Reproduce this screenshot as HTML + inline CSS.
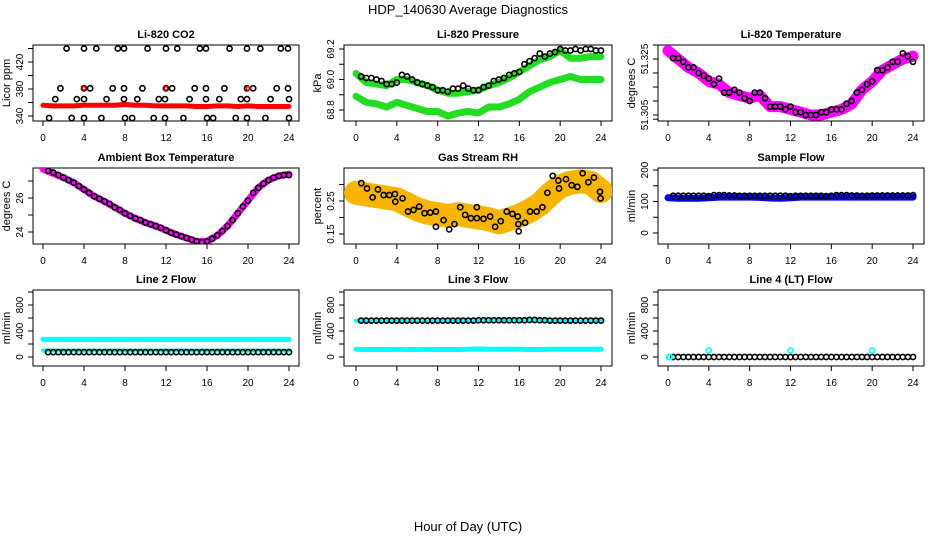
<!DOCTYPE html>
<html><head><meta charset="utf-8">
<style>
html,body{margin:0;padding:0;background:#fff;width:936px;height:540px;overflow:hidden;}
svg{display:block;font-family:"Liberation Sans",Arial,sans-serif;}
</style></head>
<body>
<svg id="chart" width="936" height="540" viewBox="0 0 936 540" xmlns="http://www.w3.org/2000/svg">
<text x="468" y="14" text-anchor="middle" font-size="13">HDP_140630  Average Diagnostics</text>
<text x="468" y="531" text-anchor="middle" font-size="13">Hour of Day (UTC)</text>
</svg>
<script>
// ---- data ----
const xTicks = [0,4,8,12,16,20,24];
const halfHours = [0.5,1,1.5,2,2.5,3,3.5,4,4.5,5,5.5,6,6.5,7,7.5,8,8.5,9,9.5,10,10.5,11,11.5,12,12.5,13,13.5,14,14.5,15,15.5,16,16.5,17,17.5,18,18.5,19,19.5,20,20.5,21,21.5,22,22.5,23,23.5,24];
const hours = [0,1,2,3,4,5,6,7,8,9,10,11,12,13,14,15,16,17,18,19,20,21,22,23,24];

const co2Hours = [2.3,4.0,5.2,7.3,7.9,10.2,12.0,13.1,15.3,15.9,18.2,19.9,21.2,23.2,23.9, 1.7,4.0,4.6,6.8,7.9,9.7,12.0,12.6,14.8,15.9,17.7,19.9,20.5,22.8,23.9, 1.2,3.3,4.0,6.2,7.9,9.2,11.3,11.9,14.3,15.9,17.2,19.3,19.9,22.2,24.0, 0.6,2.8,4.0,5.7,8.0,8.7,10.8,11.9,13.7,16.0,16.6,18.8,19.9,21.7,24.0];
const co2Vals = [440,440,440,440,440,440,440,440,440,440,440,440,440,440,440, 381,381,381,381,381,381,381,381,381,381,381,381,381,381,381, 365,365,365,365,365,365,365,365,365,365,365,365,365,365,365, 337,337,337,337,337,337,337,337,337,337,337,337,337,337,337];
const co2Band = [356,355,355,355,356,356,356,356,357,356,356,355,355,355,355,354,354,355,355,354,355,354,354,354,354];
const co2RedHours = [4,12,20];
const co2RedVals = [381,381,381];

const presCircles = [69.02,69.01,69.01,69.0,68.99,68.97,68.97,68.98,69.03,69.02,69.0,68.98,68.97,68.96,68.95,68.93,68.93,68.92,68.94,68.94,68.96,68.94,68.93,68.93,68.95,68.96,68.99,69.0,69.01,69.03,69.04,69.05,69.1,69.12,69.14,69.17,69.15,69.17,69.18,69.2,69.19,69.19,69.2,69.19,69.2,69.2,69.19,69.19];
const presUpper = [69.04,68.98,68.97,68.96,69.0,69.0,68.98,68.96,68.93,68.91,68.91,68.92,68.93,68.96,68.98,69.01,69.05,69.09,69.13,69.15,69.19,69.14,69.14,69.15,69.15];
const presLower = [68.89,68.85,68.84,68.82,68.85,68.83,68.81,68.79,68.79,68.76,68.78,68.79,68.78,68.82,68.82,68.84,68.87,68.92,68.95,68.98,69.0,69.02,69.0,69.0,69.0];

const tempCircles = [51.3253,51.3253,51.324,51.322,51.322,51.320,51.319,51.318,51.316,51.318,51.313,51.313,51.314,51.313,51.311,51.310,51.313,51.313,51.311,51.308,51.308,51.308,51.307,51.308,51.306,51.306,51.305,51.305,51.305,51.306,51.306,51.307,51.307,51.307,51.309,51.310,51.313,51.314,51.316,51.317,51.321,51.321,51.322,51.324,51.324,51.327,51.326,51.324];
const tempBand = [51.328,51.325,51.322,51.320,51.317,51.316,51.313,51.312,51.311,51.312,51.308,51.308,51.307,51.306,51.305,51.305,51.306,51.307,51.309,51.314,51.317,51.321,51.323,51.325,51.326];

const ambCircles = [27.6,27.5,27.35,27.2,27.05,26.9,26.7,26.5,26.3,26.1,25.95,25.8,25.65,25.45,25.3,25.1,24.95,24.8,24.7,24.55,24.45,24.35,24.25,24.1,23.95,23.85,23.75,23.65,23.55,23.45,23.4,23.45,23.6,23.8,24.05,24.35,24.7,25.1,25.5,25.85,26.3,26.6,26.85,27.05,27.2,27.3,27.35,27.35];
const ambBand = [27.7,27.45,27.2,26.9,26.5,26.1,25.8,25.45,25.1,24.8,24.55,24.35,24.1,23.85,23.65,23.45,23.45,23.8,24.35,25.1,25.85,26.6,27.05,27.3,27.4];

const rhHours = [0.52,1.08,1.63,2.15,2.71,3.26,3.81,3.85,4.56,5.09,5.64,6.19,6.72,7.27,7.83,7.83,8.58,9.13,9.65,10.21,10.69,11.25,11.84,11.84,12.49,13.14,13.63,14.18,14.77,15.32,15.85,15.91,15.94,16.56,17.05,17.7,18.26,18.75,19.27,19.82,19.89,20.57,21.13,21.68,22.2,22.76,23.31,23.9,23.96];
const rhVals = [0.304,0.288,0.261,0.285,0.268,0.268,0.271,0.248,0.258,0.218,0.223,0.233,0.213,0.215,0.218,0.172,0.192,0.164,0.180,0.231,0.208,0.198,0.231,0.198,0.196,0.203,0.172,0.189,0.218,0.211,0.203,0.180,0.158,0.184,0.218,0.218,0.231,0.275,0.326,0.312,0.288,0.316,0.298,0.293,0.334,0.307,0.321,0.278,0.258];
const rhBand = [0.275,0.27,0.265,0.26,0.255,0.24,0.225,0.215,0.21,0.205,0.21,0.205,0.2,0.195,0.185,0.195,0.205,0.22,0.24,0.27,0.295,0.305,0.31,0.305,0.28];

const sampleCircles = [118,118,118,118,118,118,118,117,120,120,120,119,119,118,118,118,118,118,118,118,118,118,118,117,118,118,118,118,118,118,117,118,120,120,120,119,119,118,118,119,119,119,119,119,119,119,119,120];
const sampleBand = [112,110,110,110,112,114,114,114,114,113,111,110,112,114,114,114,114,114,114,114,114,114,114,114,114];

const l2Circles = [75,75,75,75,75,75,75,75,75,75,75,75,75,75,75,75,75,75,75,75,75,75,75,75,75,75,75,75,75,75,75,75,75,75,75,75,75,75,75,75,75,75,75,75,75,75,75,75];
const l2High = [270,270,270,270,270,270,270,270,270,270,270,270,270,270,270,270,270,270,270,270,270,270,270,270,270];
const l2Low = [100,100,100,100,100,100,100,100,100,100,100,100,100,100,100,100,100,100,100,100,100,100,100,100,100];

const l3Circles = [560,560,560,560,560,560,560,560,560,560,560,560,560,560,560,560,560,560,560,560,560,560,560,565,565,565,565,565,565,565,565,565,565,570,570,565,565,560,560,560,560,560,560,560,560,560,560,560];
const l3High = [560,560,560,560,555,560,560,560,560,560,560,560,555,560,565,565,565,570,565,560,555,560,560,560,560];
const l3Low = [120,115,115,115,120,115,115,120,115,115,115,120,125,120,120,120,120,115,115,120,120,120,120,120,120];

const l4Circles = [0,0,0,0,0,0,0,0,0,0,0,0,0,0,0,0,0,0,0,0,0,0,0,0,0,0,0,0,0,0,0,0,0,0,0,0,0,0,0,0,0,0,0,0,0,0,0,0];
const l4CyanHours = [0.1,0.2,4,12,20];
const l4CyanVals = [0,0,100,100,100];

// ---- layout ----
const NS = "http://www.w3.org/2000/svg";
const svg = document.getElementById('chart');
const cols = [{L:33,R:299,x0:43,x24:289},{L:344,R:612,x0:356,x24:601},{L:658,R:924,x0:668,x24:913}];
const rows = [{T:45,B:121},{T:168,B:244},{T:290,B:366}];

function mk(tag, attrs, parent){
  const e = document.createElementNS(NS, tag);
  for (const k in attrs) e.setAttribute(k, attrs[k]);
  (parent||svg).appendChild(e);
  return e;
}

function panel(ci, ri, name, title, ytitle, v0, p0, v1, p1, yTicks, yLabels){
  const c = cols[ci], r = rows[ri];
  const g = mk('g', {});
  
  
  const xs = h => c.x0 + h*(c.x24-c.x0)/24;
  const ys = v => p0 + (v - v0)*(p1-p0)/(v1-v0);
  const t = mk('text', {x:(c.L+c.R)/2, y:r.T-7, 'text-anchor':'middle', 'font-size':'11', 'font-weight':'bold'}, g);
  t.textContent = title;
  
  
  const box = mk('rect', {x:c.L, y:r.T, width:c.R-c.L, height:r.B-r.T, fill:'none', stroke:'#000', 'stroke-width':'1'}, g);
  
  
  const xa = mk('g', {}, g);
  
  
  xTicks.forEach(h => {
    mk('line', {x1:xs(h), x2:xs(h), y1:r.B, y2:r.B+5, stroke:'#000'}, xa);
    const lb = mk('text', {x:xs(h), y:r.B+20, 'text-anchor':'middle', 'font-size':'10'}, xa);
    lb.textContent = h;
    
    
  });
  const ya = mk('g', {}, g);
  
  
  yTicks.forEach(v => mk('line', {x1:c.L-5, x2:c.L, y1:ys(v), y2:ys(v), stroke:'#000'}, ya));
  yLabels.forEach(s => {
    const lb = mk('text', {x:0, y:0, 'text-anchor':'middle', 'font-size':'10', transform:`translate(${c.L-10},${ys(parseFloat(s))}) rotate(-90)`}, ya);
    lb.textContent = s;
    
    
  });
  const yt = mk('text', {x:0, y:0, 'text-anchor':'middle', 'font-size':'11', transform:`translate(${c.L-23},${(r.T+r.B)/2}) rotate(-90)`}, g);
  yt.textContent = ytitle;
  
  
  const clip = 'clip-' + name;
  const cp = mk('clipPath', {id:clip}, g);
  mk('rect', {x:c.L, y:r.T, width:c.R-c.L, height:r.B-r.T}, cp);
  const data = mk('g', {'clip-path':`url(#${clip})`}, g);
  return {xs, ys, g:data};
}

function band(P, xsArr, vals, color, w, nm){
  const pts = xsArr.map((h,i) => P.xs(h).toFixed(1)+','+P.ys(vals[i]).toFixed(1)).join(' ');
  const pl = mk('polyline', {points:pts, fill:'none', stroke:color, 'stroke-width':w, 'stroke-linejoin':'round', 'stroke-linecap':'round'}, P.g);
  
  
}
function circles(P, xsArr, vals, color, nm, r){
  xsArr.forEach((h,i) => {
    const ci = mk('circle', {cx:P.xs(h), cy:P.ys(vals[i]), r:r||2.6, fill:'none', stroke:color, 'stroke-width':'1.6'}, P.g);
    
    
  });
}

let P = panel(0,0,'co2','Li-820 CO2','Licor ppm',340,116,420,62,[340,360,380,400,420,440],['340','380','420']);
band(P, hours, co2Band, '#ff0000', 5, 'co2-red-series');
circles(P, co2Hours, co2Vals, '#000', 'co2-point');
circles(P, co2RedHours, co2RedVals, '#ff0000', 'co2-red-point', 1.8);

P = panel(1,0,'pressure','Li-820 Pressure','kPa',68.8,110,69.2,49,[68.8,68.9,69.0,69.1,69.2],['68.8','69.0','69.2']);
band(P, hours, presUpper, '#22dd22', 7, 'pressure-upper-series');
band(P, hours, presLower, '#22dd22', 7, 'pressure-lower-series');
circles(P, halfHours, presCircles, '#000', 'pressure-point');

P = panel(2,0,'li820-temp','Li-820 Temperature','degrees C',51.305,115,51.325,59,[51.3035,51.305,51.31,51.315,51.32,51.325,51.33],['51.305','51','51.325']);
band(P, hours, tempBand, '#ff00ff', 11, 'li820-temp-series');
circles(P, halfHours, tempCircles, '#000', 'li820-temp-point');

P = panel(0,1,'ambient','Ambient Box Temperature','degrees C',24,232,26,198,[24,25,26,27],['24','26']);
band(P, hours, ambBand, '#ff00ff', 7, 'ambient-series');
circles(P, halfHours, ambCircles, '#000', 'ambient-point');

P = panel(1,1,'rh','Gas Stream RH','percent',0.15,234,0.25,201,[0.15,0.2,0.25,0.3],['0.15','0.25']);
band(P, hours, rhBand, '#f7b500', 24, 'rh-series');
circles(P, rhHours, rhVals, '#000', 'rh-point');

P = panel(2,1,'sample-flow','Sample Flow','ml/min',0,233,200,170,[0,50,100,150,200],['0','100','200']);
band(P, hours, sampleBand, '#0000ff', 7, 'sample-flow-series');
circles(P, halfHours, sampleCircles, '#000', 'sample-flow-point');

P = panel(0,2,'line2','Line 2 Flow','ml/min',0,357,400,331,[0,200,400,600,800,1000],['0','400','800']);
band(P, hours, l2High, '#00ffff', 5, 'line2-high-series');
band(P, hours, l2Low, '#00ffff', 4, 'line2-low-series');
circles(P, halfHours, l2Circles, '#000', 'line2-point');

P = panel(1,2,'line3','Line 3 Flow','ml/min',0,357,400,331,[0,200,400,600,800,1000],['0','400','800']);
band(P, hours, l3High, '#00ffff', 4, 'line3-high-series');
band(P, hours, l3Low, '#00ffff', 5, 'line3-low-series');
circles(P, halfHours, l3Circles, '#000', 'line3-point');

P = panel(2,2,'line4','Line 4 (LT) Flow','ml/min',0,357,400,331,[0,200,400,600,800,1000],['0','400','800']);
circles(P, halfHours, l4Circles, '#000', 'line4-point');
circles(P, l4CyanHours, l4CyanVals, '#00ffff', 'line4-cyan-point');
</script>
</body></html>
